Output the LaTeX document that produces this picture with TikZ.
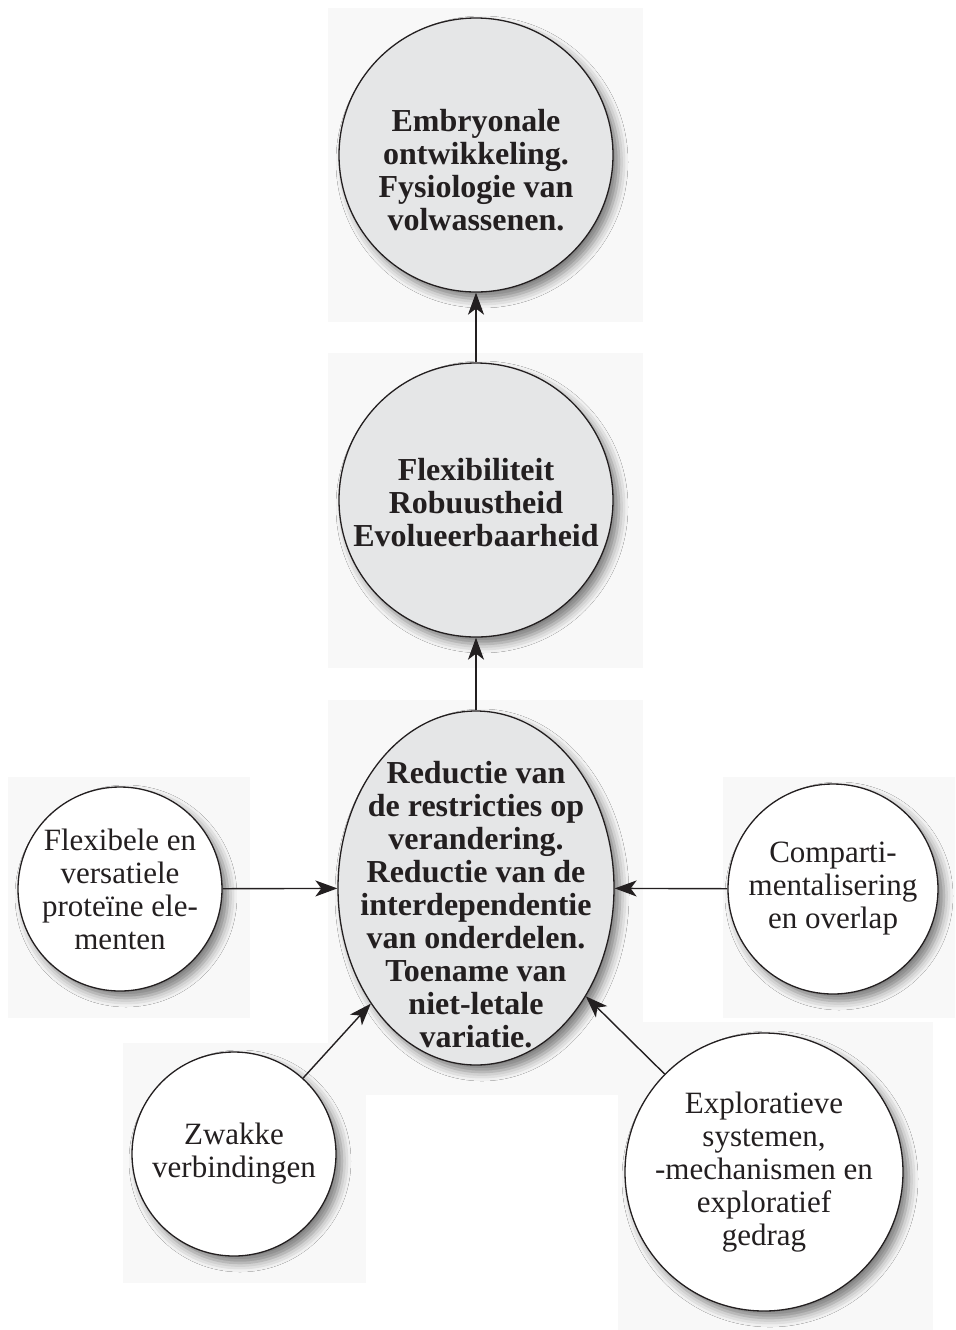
\documentclass[tikz,border=0pt]{standalone}
\usepackage{fontspec}
\setmainfont{Liberation Serif}
\usepackage{xcolor}
\usepackage{tikz}
\usetikzlibrary{arrows.meta,shapes.geometric,shadows.blur}
\definecolor{bgc}{RGB}{248,248,248}
\definecolor{nodegray}{RGB}{229,230,231}
\definecolor{ink}{RGB}{35,31,32}
\tikzset{
  sh/.style={blur shadow={shadow xshift=3pt,shadow yshift=-3.5pt,shadow blur radius=4.5pt,shadow opacity=50}},
  gr/.style={circle,draw=ink,line width=0.65pt,fill=nodegray,inner sep=0pt,sh},
  wh/.style={circle,draw=ink,line width=0.65pt,fill=white,inner sep=0pt,align=center,sh,
    font=\fontsize{15.5}{16.5}\selectfont,text=ink},
  bt/.style={align=center,inner sep=0pt,font=\fontsize{16}{16.5}\selectfont\bfseries,text=ink},
  ar/.style={draw=ink,line width=0.7pt,-{Stealth[length=11pt,width=8pt,inset=3pt]}},
  bg/.style={fill=bgc}
}
\newcommand{\bgsq}[4]{\fill[bg] (#1,#2) rectangle (#3,#4);}

\begin{document}
\begin{tikzpicture}[x=0.5pt,y=-0.5pt]
\useasboundingbox (0,0) rectangle (955,1330);
\bgsq{328}{8}{643}{322}
\bgsq{328}{353}{643}{668}
\bgsq{328}{700}{643}{1095}
\bgsq{8}{777}{250}{1018}
\bgsq{723}{777}{955}{1018}
\bgsq{123}{1043}{366}{1283}
\bgsq{618}{1022}{933}{1330}
\node[gr,minimum size=137pt] (emb) at (476,155) {};
\node[bt] (embt) at (476,170) {Embryonale\\ontwikkeling.\\Fysiologie van\\volwassenen.};
\node[gr,minimum size=137pt] (flex) at (476,500) {};
\node[bt] (flext) at (476,503) {Flexibiliteit\\Robuustheid\\Evolueerbaarheid};
\node[gr,ellipse,minimum width=138pt,minimum height=177pt] (red) at (476,888) {};
\node[bt] (redt) at (476,905) {Reductie van\\de restricties op\\verandering.\\Reductie van de\\interdependentie\\van onderdelen.\\Toename van\\niet-letale\\variatie.};
\node[wh,minimum size=102pt] (prot) at (120,889) {Flexibele en\\versatiele\\proteïne ele-\\menten};
\node[wh,minimum size=105pt] (comp) at (833,889) {Comparti-\\mentalisering\\en overlap};
\node[wh,minimum size=102pt] (zwak) at (234,1154) {Zwakke\\verbindingen};
\node[wh,minimum size=139pt] (expl) at (764,1172) {Exploratieve\\systemen,\\-mechanismen en\\exploratief\\gedrag};
\draw[ar] (flex) -- (emb);
\draw[ar] (red) -- (flex);
\draw[ar] (prot) -- (red);
\draw[ar] (comp) -- (red);
\draw[ar] (zwak) -- (red);
\draw[ar] (expl) -- (red);
\end{tikzpicture}
\end{document}
